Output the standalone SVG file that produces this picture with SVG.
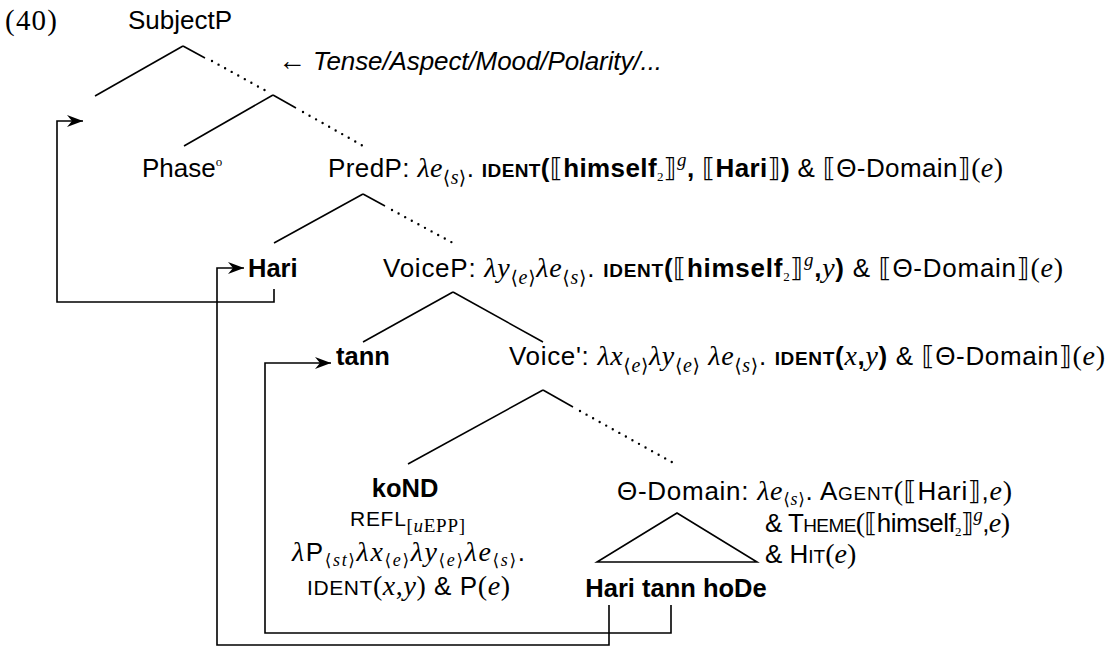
<svg xmlns="http://www.w3.org/2000/svg" width="1112" height="647" viewBox="0 0 1112 647">
<defs>
<marker id="ah" markerWidth="18" markerHeight="14" refX="16" refY="7" orient="auto" markerUnits="userSpaceOnUse">
<path d="M0,1 L16,7 L0,13 L5,7 Z" fill="#000"/>
</marker>
<style>
.t{font-family:"Liberation Sans","DejaVu Sans",sans-serif;font-size:26px;fill:#000}
.lb{font-size:25.5px;font-weight:bold}
.b{font-weight:bold}
.m{font-family:"Liberation Serif","DejaVu Serif",serif;font-style:italic;font-weight:normal;font-size:28px}
.r{font-family:"Liberation Serif","DejaVu Serif",serif;font-weight:normal;font-size:28px}
.sc{font-size:19px}
.sc2{font-size:21px}
.br{font-family:"DejaVu Sans",sans-serif;font-weight:normal;font-size:26px}
.sub{font-size:19px}
.sub .m{font-size:20px}
.ks{font-size:17px}
.ks .m{font-size:18px}
.rs{font-family:"Liberation Serif","DejaVu Serif",serif;font-weight:normal;font-size:19px}
.rs .m{font-size:19px}
.sup{font-family:"Liberation Serif","DejaVu Serif",serif;font-style:italic;font-weight:normal;font-size:19px}
.tiny{font-size:13px;font-family:"Liberation Serif","DejaVu Serif",serif;font-weight:normal}
.e{stroke:#000;stroke-width:1.6;fill:none}
.d{stroke:#000;stroke-width:2.4;fill:none;stroke-dasharray:0 7.5;stroke-linecap:round}
.mv{stroke:#000;stroke-width:1.6;fill:none;marker-end:url(#ah)}
</style>
</defs>
<rect width="1112" height="647" fill="#fff"/>

<g id="number"><text class="t" x="5" y="30" textLength="52"><tspan class="r" style="font-size:29px">(40)</tspan></text></g>

<g id="SubjectP"><text class="t" x="128" y="29">SubjectP</text></g>
<g id="tam-note"><text class="t" x="278" y="70" textLength="384"><tspan class="r">←</tspan> <tspan font-style="italic">Tense/Aspect/Mood/Polarity/...</tspan></text></g>
<g id="Phase"><text class="t" x="142" y="177">Phase<tspan class="tiny" dy="-11">o</tspan></text></g>

<g id="PredP"><text class="t" x="328" y="177" textLength="675">PredP: <tspan class="m">λe</tspan><tspan class="sub" dy="7">⟨<tspan class="m">s</tspan>⟩</tspan><tspan dy="-7">. </tspan><tspan class="b sc">IDENT</tspan><tspan class="b">(</tspan><tspan class="br">⟦</tspan><tspan class="b">himself</tspan><tspan class="tiny" dy="4">2</tspan><tspan class="br" dy="-4">⟧</tspan><tspan class="sup" dy="-11">g</tspan><tspan class="b" dy="11">, </tspan><tspan class="br">⟦</tspan><tspan class="b">Hari</tspan><tspan class="br">⟧</tspan><tspan class="b">)</tspan> &amp; <tspan class="br">⟦</tspan>Θ-Domain<tspan class="br">⟧</tspan><tspan class="r">(</tspan><tspan class="m">e</tspan><tspan class="r">)</tspan></text></g>

<g id="Hari"><text class="t lb" x="248" y="277">Hari</text></g>

<g id="VoiceP"><text class="t" x="383" y="277" textLength="680">VoiceP: <tspan class="m">λy</tspan><tspan class="sub" dy="7">⟨<tspan class="m">e</tspan>⟩</tspan><tspan class="m" dy="-7">λe</tspan><tspan class="sub" dy="7">⟨<tspan class="m">s</tspan>⟩</tspan><tspan dy="-7">. </tspan><tspan class="b sc">IDENT</tspan><tspan class="b">(</tspan><tspan class="br">⟦</tspan><tspan class="b">himself</tspan><tspan class="tiny" dy="4">2</tspan><tspan class="br" dy="-4">⟧</tspan><tspan class="sup" dy="-11">g</tspan><tspan class="b" dy="11">,</tspan><tspan class="m">y</tspan><tspan class="b">)</tspan> &amp; <tspan class="br">⟦</tspan>Θ-Domain<tspan class="br">⟧</tspan><tspan class="r">(</tspan><tspan class="m">e</tspan><tspan class="r">)</tspan></text></g>

<g id="tann"><text class="t lb" x="336" y="365">tann</text></g>

<g id="VoiceBar"><text class="t" x="509" y="365" textLength="596">Voice': <tspan class="m">λx</tspan><tspan class="sub" dy="7">⟨<tspan class="m">e</tspan>⟩</tspan><tspan class="m" dy="-7">λy</tspan><tspan class="sub" dy="7">⟨<tspan class="m">e</tspan>⟩</tspan><tspan class="m" dy="-7"> λe</tspan><tspan class="sub" dy="7">⟨<tspan class="m">s</tspan>⟩</tspan><tspan dy="-7">. </tspan><tspan class="b sc">IDENT</tspan><tspan class="b">(</tspan><tspan class="m">x</tspan><tspan class="b">,</tspan><tspan class="m">y</tspan><tspan class="b">)</tspan> &amp; <tspan class="br">⟦</tspan>Θ-Domain<tspan class="br">⟧</tspan><tspan class="r">(</tspan><tspan class="m">e</tspan><tspan class="r">)</tspan></text></g>

<g id="koND">
<text class="t lb" x="405" y="497" text-anchor="middle">koND</text>
<text class="t" x="350" y="526" textLength="115"><tspan class="sc2">REFL</tspan><tspan class="rs" dy="6">[<tspan class="m">u</tspan>EPP]</tspan></text>
<text class="t" x="292" y="561" textLength="233"><tspan class="m">λ</tspan>P<tspan class="ks" dy="5">⟨<tspan class="m">st</tspan>⟩</tspan><tspan class="m" dy="-5">λx</tspan><tspan class="ks" dy="5">⟨<tspan class="m">e</tspan>⟩</tspan><tspan class="m" dy="-5">λy</tspan><tspan class="ks" dy="5">⟨<tspan class="m">e</tspan>⟩</tspan><tspan class="m" dy="-5">λe</tspan><tspan class="ks" dy="5">⟨<tspan class="m">s</tspan>⟩</tspan><tspan dy="-5">.</tspan></text>
<text class="t" x="307" y="595" textLength="203"><tspan class="sc2">IDENT</tspan><tspan class="r">(</tspan><tspan class="m">x</tspan><tspan class="r">,</tspan><tspan class="m">y</tspan><tspan class="r">)</tspan> &amp; P<tspan class="r">(</tspan><tspan class="m">e</tspan><tspan class="r">)</tspan></text>
</g>

<g id="ThetaDomain">
<text class="t" x="617" y="500" textLength="395">Θ-Domain: <tspan class="m">λe</tspan><tspan class="ks" dy="5">⟨<tspan class="m">s</tspan>⟩</tspan><tspan dy="-5">. A</tspan><tspan class="sc">GENT</tspan><tspan class="r">(</tspan><tspan class="br">⟦</tspan>Hari<tspan class="br">⟧</tspan>,<tspan class="m">e</tspan><tspan class="r">)</tspan></text>
<text class="t" x="765" y="532" textLength="245">&amp; T<tspan class="sc">HEME</tspan><tspan class="r">(</tspan><tspan class="br">⟦</tspan>himself<tspan class="tiny" dy="4">2</tspan><tspan class="br" dy="-4">⟧</tspan><tspan class="sup" dy="-11">g</tspan><tspan dy="11">,</tspan><tspan class="m">e</tspan><tspan class="r">)</tspan></text>
<text class="t" x="765" y="563">&amp; H<tspan class="sc">IT</tspan><tspan class="r">(</tspan><tspan class="m">e</tspan><tspan class="r">)</tspan></text>
<polygon class="e" points="677,513 597,562 757,562"/>
<text class="t lb" x="676" y="597" text-anchor="middle">Hari tann hoDe</text>
</g>

<g id="connectors">
<line class="e" x1="183" y1="46" x2="95" y2="96"/>
<line class="e" x1="183" y1="46" x2="205" y2="58"/>
<line class="d" x1="212" y1="61" x2="268" y2="92"/>
<line class="e" x1="273" y1="95" x2="184" y2="146"/>
<line class="e" x1="273" y1="95" x2="296" y2="108"/>
<line class="d" x1="303" y1="112" x2="365" y2="147"/>
<line class="e" x1="363" y1="194" x2="274" y2="243"/>
<line class="e" x1="363" y1="194" x2="385" y2="206"/>
<line class="d" x1="392" y1="210" x2="453" y2="243"/>
<line class="e" x1="453" y1="292" x2="363" y2="342"/>
<line class="e" x1="453" y1="292" x2="543" y2="342"/>
<line class="e" x1="543" y1="390" x2="408" y2="464"/>
<line class="e" x1="543" y1="390" x2="573" y2="407"/>
<line class="d" x1="580" y1="411" x2="677" y2="465"/>
<path class="mv" d="M274,289 V302 H57 V121 H83"/>
<path class="mv" d="M609,605 V645 H217 V268 H244"/>
<path class="mv" d="M671,605 V633 H265 V363 H331"/>
</g>
</svg>
